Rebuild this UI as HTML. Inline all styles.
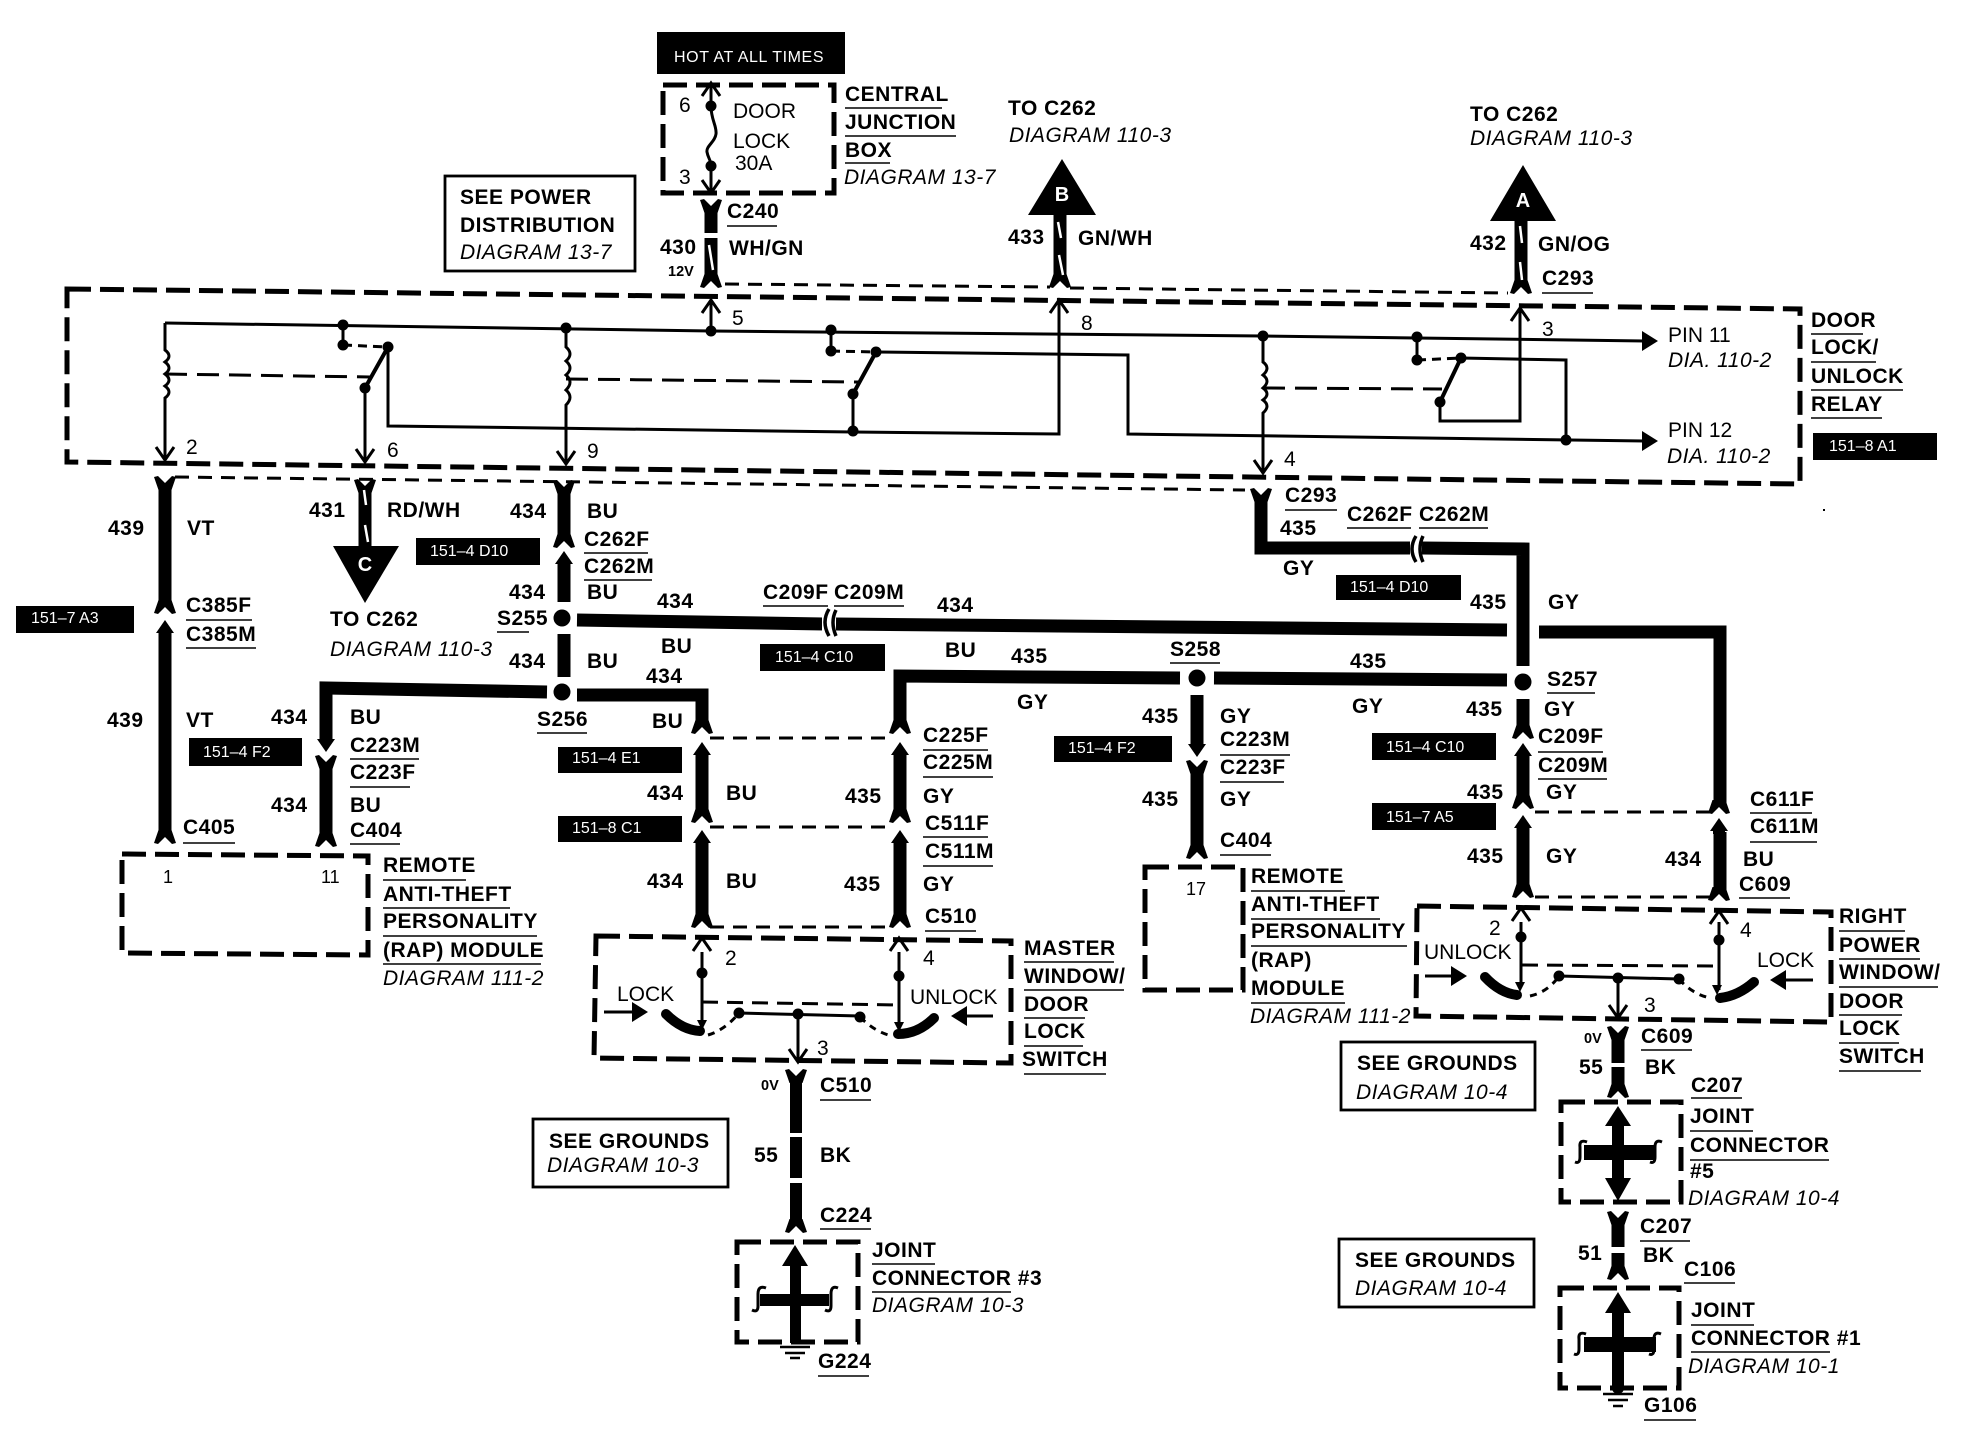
<!DOCTYPE html>
<html><head><meta charset="utf-8"><style>
html,body{margin:0;padding:0;background:#fff}
svg{display:block}
text{font-family:"Liberation Sans",sans-serif;fill:#000;font-size:21px}
.b{font-weight:bold;letter-spacing:.5px}.i{font-style:italic;letter-spacing:.5px}
.w{fill:#fff;font-size:16px}
.s{font-size:14.5px;font-weight:bold}
.L{fill:#fff;font-weight:bold;font-size:20px;text-anchor:middle}
.wire{fill:none;stroke:#000;stroke-width:13;stroke-linejoin:miter}
.thin{fill:none;stroke:#000;stroke-width:3}
.ul{fill:none;stroke:#000;stroke-width:1.6}
.dash{fill:none;stroke:#000;stroke-width:5;stroke-dasharray:24 9}
.td{fill:none;stroke:#000;stroke-width:3;stroke-dasharray:14 9}
.sl{stroke:#fff;stroke-width:2.5}
.arc{fill:none;stroke:#000;stroke-width:10;stroke-linecap:round}
.curl{fill:none;stroke:#000;stroke-width:3}
</style></head><body>
<svg width="1976" height="1456" viewBox="0 0 1976 1456" xmlns="http://www.w3.org/2000/svg">
<defs>
<g id="fu"><path d="M-11 0L-7-1L0 6L7-1L11 0L6.5 13H-6.5Z"/></g>
<g id="fd"><path d="M-11 0L-7 1L0-6L7 1L11 0L6.5-13H-6.5Z"/></g>
<g id="au"><path class="thin" d="M-9 13L0 0L9 13"/></g>
<g id="ad"><path class="thin" d="M-9-13L0 0L9-13"/></g>
<g id="hu"><path d="M0 0L-9 13H-6V16H6V13H9Z"/></g>
<g id="hd"><path d="M0 0L-9-13H-6V-16H6V-13H9Z"/></g>
</defs>
<rect width="1976" height="1456" fill="#fff"/>
<rect x="1823" y="509" width="2" height="2"/>

<!-- black label boxes -->
<rect x="657" y="32" width="188" height="42"/>
<rect x="1813" y="433" width="124" height="27"/>
<rect x="16" y="606" width="118" height="27"/>
<rect x="416" y="538" width="124" height="27"/>
<rect x="760" y="644" width="125" height="27"/>
<rect x="189" y="738" width="113" height="28"/>
<rect x="558" y="747" width="124" height="26"/>
<rect x="558" y="816" width="124" height="26"/>
<rect x="1336" y="575" width="125" height="25"/>
<rect x="1054" y="736" width="118" height="26"/>
<rect x="1372" y="733" width="124" height="27"/>
<rect x="1372" y="803" width="124" height="27"/>
<text class="w" x="674" y="62" style="letter-spacing:.6px">HOT AT ALL TIMES</text>
<text class="w" x="1829" y="451">151–8 A1</text>
<text class="w" x="31" y="623">151–7 A3</text>
<text class="w" x="430" y="556">151–4 D10</text>
<text class="w" x="775" y="662">151–4 C10</text>
<text class="w" x="203" y="757">151–4 F2</text>
<text class="w" x="572" y="763">151–4 E1</text>
<text class="w" x="572" y="833">151–8 C1</text>
<text class="w" x="1350" y="592">151–4 D10</text>
<text class="w" x="1068" y="753">151–4 F2</text>
<text class="w" x="1386" y="752">151–4 C10</text>
<text class="w" x="1386" y="822">151–7 A5</text>

<!-- dashed component boxes -->
<path class="dash" d="M663 85L834 85V193H663Z"/>
<path class="dash" d="M67 289L1800 309V484L67 462Z"/>
<path class="dash" d="M122 854L368 856V955L122 953Z"/>
<path class="dash" d="M596 936L1011 941V1063L594 1058Z"/>
<path class="dash" d="M1145 867H1243V990H1145Z"/>
<path class="dash" d="M1417 906L1831 912V1022L1416 1016Z"/>
<path class="dash" d="M737 1242H858V1342H737Z"/>
<path class="dash" d="M1561 1102H1681V1202H1561Z"/>
<path class="dash" d="M1560 1288H1679V1388H1560Z"/>

<!-- plain boxes -->
<g fill="none" stroke="#000" stroke-width="2.8">
<rect x="445" y="176" width="190" height="95"/>
<rect x="533" y="1119" width="195" height="68"/>
<rect x="1341" y="1042" width="194" height="68"/>
<rect x="1339" y="1239" width="195" height="68"/>
</g>

<!-- thin dashed linking lines -->
<path class="td" d="M725 284L1050 287M1070 288L1508 293"/>
<path class="td" d="M175 477L1245 490"/>
<path class="td" d="M710 738H893M710 827H893M710 927H893"/>
<path class="td" d="M1535 812H1712M1535 897H1712"/>

<!-- fuse -->
<path class="thin" d="M711 84V106C711 120 717 126 716 134C715 142 706 146 707 152C708 158 711 160 711 166V192"/>
<use href="#au" x="711" y="83"/><use href="#ad" x="711" y="193"/>
<circle cx="711" cy="106" r="5.5"/><circle cx="711" cy="166" r="5.5"/>

<!-- relay internals -->
<path class="thin" d="M165 323L711 331L1263 336L1645 341"/>
<path d="M1658 341L1642 331V351Z"/>
<path class="thin" d="M165 323V350q8 6 0 12q8 6 0 12q8 6 0 12q8 6 0 12V459"/><use href="#ad" x="165" y="460"/>
<path class="thin" d="M566 328V347q8 7 0 14q8 7 0 14q8 7 0 15q8 7 0 15V463"/><use href="#ad" x="566" y="464"/>
<path class="thin" d="M1263 336V362q8 6 0 13q8 6 0 13q8 6 0 12q8 6 0 13V472"/><use href="#ad" x="1263" y="473"/>
<path class="thin" d="M343 325V345M831 330V351M1417 337V360"/>
<path class="td" d="M343 345L388 347M831 351L876 352M1417 360L1461 358" style="stroke-dasharray:9 6"/>
<path class="td" d="M165 374L370 377M566 379L858 382M1263 388L1442 389" style="stroke-dasharray:22 10"/>
<path fill="none" stroke="#000" stroke-width="4" d="M388 347L365 388M876 352L853 394M1461 358L1440 402"/>
<path class="thin" d="M365 388V461"/><use href="#ad" x="365" y="462"/>
<path class="thin" d="M388 347V426L853 432L1059 434V301"/><use href="#au" x="1059" y="300"/>
<path class="thin" d="M853 394V432"/>
<path class="thin" d="M876 352L1128 355V434L1645 441"/><path d="M1658 441L1642 431V451Z"/>
<path class="thin" d="M1440 402V421H1520V309"/><use href="#au" x="1520" y="308"/>
<path class="thin" d="M1461 358L1566 360V440"/>
<path class="thin" d="M711 331V301"/><use href="#au" x="711" y="300"/>
<g>
<circle cx="343" cy="325" r="5.5"/><circle cx="343" cy="345" r="5.5"/><circle cx="388" cy="347" r="5.5"/><circle cx="365" cy="388" r="5.5"/>
<circle cx="566" cy="328" r="5.5"/><circle cx="711" cy="331" r="5.5"/>
<circle cx="831" cy="330" r="5.5"/><circle cx="831" cy="351" r="5.5"/><circle cx="876" cy="352" r="5.5"/><circle cx="853" cy="394" r="5.5"/><circle cx="853" cy="431" r="5.5"/>
<circle cx="1263" cy="336" r="5.5"/><circle cx="1417" cy="337" r="5.5"/><circle cx="1417" cy="360" r="5.5"/><circle cx="1461" cy="358" r="5.5"/><circle cx="1440" cy="402" r="5.5"/><circle cx="1566" cy="440" r="5.5"/>
</g>

<!-- heavy wires -->
<path class="wire" d="M711 212V233M711 238V278"/>
<path class="wire" d="M1060 215V278"/>
<path class="wire" d="M1521 221V284"/>
<path class="wire" d="M365 488V548"/>
<path class="wire" d="M165 488V604M165 630V834"/>
<path class="wire" d="M564 490V540M564 564V602M564 634V677"/>
<path class="wire" d="M577 620L824 624M836 624L1507 630"/>
<path class="wire" d="M1539 632H1720V804M1720 832V890"/>
<path class="wire" d="M547 692L326 688V740M326 768V836"/>
<path class="wire" d="M577 695H702V726M702 752V814M702 842V918"/>
<path class="wire" d="M1180 678L900 676V726M900 752V815M900 842V918"/>
<path class="wire" d="M1214 678L1507 680"/>
<path class="wire" d="M1261 502V548H1410M1422 548L1523 549V666"/>
<path class="wire" d="M1197 695V745M1197 772V848"/>
<path class="wire" d="M1523 699V730M1523 756V800M1523 828V888"/>
<path class="wire" d="M796 1082V1133M796 1137V1178M796 1183V1222" style="stroke-width:12"/>
<path class="wire" d="M1618 1038V1063M1618 1067V1088"/>
<path class="wire" d="M1618 1223V1247M1618 1253V1270"/>
<!-- forks -->
<use href="#fu" x="711" y="200"/><use href="#fd" x="711" y="287"/>
<use href="#fd" x="1060" y="287"/><use href="#fd" x="1521" y="293"/>
<use href="#fu" x="165" y="477"/><use href="#fu" x="365" y="480"/><use href="#fu" x="564" y="481"/>
<use href="#fu" x="1261" y="489"/>
<use href="#fd" x="165" y="843"/><use href="#fd" x="326" y="846"/><use href="#fd" x="702" y="927"/><use href="#fd" x="900" y="927"/>
<use href="#fd" x="1197" y="858"/><use href="#fd" x="1523" y="897"/><use href="#fd" x="1719" y="900"/>
<use href="#fu" x="796" y="1070"/><use href="#fd" x="796" y="1232"/>
<use href="#fu" x="1618" y="1027"/><use href="#fd" x="1618" y="1097"/>
<use href="#fu" x="1618" y="1212"/><use href="#fd" x="1618" y="1279"/>
<!-- inline connectors: cap + arrow -->
<use href="#fd" x="165" y="613"/><use href="#hu" x="165" y="620"/>
<use href="#fd" x="564" y="547"/><use href="#hu" x="564" y="551"/>
<use href="#fd" x="702" y="733"/><use href="#hu" x="702" y="742"/>
<use href="#fd" x="702" y="822"/><use href="#hu" x="702" y="830"/>
<use href="#fd" x="900" y="733"/><use href="#hu" x="900" y="742"/>
<use href="#fd" x="900" y="822"/><use href="#hu" x="900" y="830"/>
<use href="#fd" x="1523" y="738"/><use href="#hu" x="1523" y="743"/>
<use href="#fd" x="1523" y="808"/><use href="#hu" x="1523" y="815"/>
<use href="#fd" x="1719" y="813"/><use href="#hu" x="1719" y="818"/>
<use href="#hd" x="326" y="752"/><use href="#fu" x="326" y="756"/>
<use href="#hd" x="1197" y="757"/><use href="#fu" x="1197" y="761"/>
<!-- horizontal connectors -->
<rect x="822" y="606" width="10" height="30" fill="#fff"/>
<path fill="none" stroke="#000" stroke-width="3.5" d="M829 609Q821 622 829 636M836 610Q830 622 836 636"/>
<rect x="1410" y="534" width="10" height="30" fill="#fff"/>
<path fill="none" stroke="#000" stroke-width="3.5" d="M1416 536Q1408 549 1416 562M1423 536Q1417 549 1423 562"/>
<!-- wire stripes -->
<path class="sl" d="M709 245L713 270M1058 222L1061 238M1059 255L1063 275M1520 226L1522 243M1520 262L1522 280M364 490L366 505M365 525L368 542"/>
<!-- splices -->
<circle cx="562" cy="618" r="8.5"/><circle cx="562" cy="692" r="8.5"/><circle cx="1197" cy="678" r="8.5"/><circle cx="1523" cy="682" r="8.5"/>
<!-- triangles -->
<path d="M1062 159L1028 215H1096Z"/><text class="L" x="1062" y="201">B</text>
<path d="M1523 165L1490 221H1556Z"/><text class="L" x="1523" y="207">A</text>
<path d="M365 603L333 546H399Z"/><text class="L" x="365" y="571">C</text>

<!-- master switch -->
<path class="thin" d="M702 952V1025M899 952V1028"/><use href="#au" x="702" y="938"/><use href="#au" x="899" y="938"/>
<path class="td" d="M702 1002L899 1005" style="stroke-dasharray:16 9"/>
<circle cx="702" cy="973" r="5.5"/><circle cx="899" cy="976" r="5.5"/>
<path class="arc" d="M666 1014Q682 1030 700 1031"/>
<path class="arc" d="M934 1018Q918 1034 898 1034"/>
<path d="M702 1030l-5-10h10zM899 1032l-5-10h10z"/>
<path class="td" d="M708 1035Q725 1030 739 1013M860 1017Q875 1032 892 1036" style="stroke-dasharray:7 6"/>
<path class="thin" d="M739 1013L860 1016M798 1014V1061"/><use href="#ad" x="798" y="1062"/>
<circle cx="739" cy="1013" r="5.5"/><circle cx="798" cy="1014" r="5.5"/><circle cx="860" cy="1017" r="5.5"/>
<path class="thin" d="M604 1012H636M993 1016H962"/><path d="M648 1012L632 1002V1022ZM951 1016L967 1006V1026Z"/>

<!-- right switch -->
<path class="thin" d="M1521 922V985M1719 922V990"/><use href="#au" x="1521" y="908"/><use href="#au" x="1719" y="911"/>
<path class="td" d="M1522 965L1718 966" style="stroke-dasharray:16 9"/>
<circle cx="1521" cy="937" r="5.5"/><circle cx="1719" cy="940" r="5.5"/>
<path class="arc" d="M1485 977Q1500 993 1517 995"/>
<path class="arc" d="M1754 982Q1738 996 1720 998"/>
<path d="M1520 992l-5-10h10zM1717 995l-5-10h10z"/>
<path class="td" d="M1530 996Q1548 992 1559 976M1679 979Q1692 994 1710 998" style="stroke-dasharray:7 6"/>
<path class="thin" d="M1559 976L1679 979M1618 978V1017"/><use href="#ad" x="1618" y="1018"/>
<circle cx="1559" cy="976" r="5.5"/><circle cx="1618" cy="978" r="5.5"/><circle cx="1679" cy="979" r="5.5"/>
<path class="thin" d="M1425 976H1455M1813 980H1782"/><path d="M1467 976L1451 966V986ZM1770 980L1786 970V990Z"/>

<!-- joint connector #3 -->
<path d="M795 1245L782 1266H790V1343H801V1266H808Z"/><rect x="760" y="1294" width="69" height="12"/>
<path class="curl" d="M766 1288Q758 1285 758 1294V1306Q758 1313 752 1310M838 1288Q831 1285 831 1294V1306Q831 1313 825 1310"/>
<path d="M780 1347H810M785 1353H805M790 1358H800" fill="none" stroke="#000" stroke-width="2.5"/>
<!-- joint connector #5 -->
<path d="M1618 1106L1605 1126H1612V1178H1605L1618 1201L1631 1178H1624V1126H1631Z"/><rect x="1584" y="1145" width="72" height="15"/>
<path class="curl" d="M1587 1142Q1579 1139 1580 1147V1157Q1580 1164 1575 1162M1662 1142Q1655 1139 1655 1147V1157Q1655 1164 1650 1162"/>
<!-- joint connector #1 -->
<path d="M1618 1292L1605 1313H1612V1388H1624V1313H1631Z"/><rect x="1584" y="1337" width="72" height="15"/><circle cx="1618" cy="1388" r="6"/>
<path class="curl" d="M1586 1334Q1578 1331 1579 1339V1349Q1579 1356 1574 1354M1661 1334Q1654 1331 1654 1339V1349Q1654 1356 1649 1354"/>
<path d="M1603 1394H1633M1608 1400H1628M1613 1406H1623" fill="none" stroke="#000" stroke-width="2.5"/>

<!-- underlines -->
<path class="ul" d="M845 108h97M845 136h111M845 163h45M727 226h50M1811 334h52M1811 362h65M1811 390h92M1811 418h71
M1542 293h51M186 620h66M186 648h70M183 843h52M584 553h64M584 580h68M497 632h32M763 606h65M834 606h70M537 733h50
M350 759h69M350 787h60M350 844h50M923 750h65M923 777h70M923 837h65M923 866h70M925 931h51
M383 880h83M383 908h127M383 936h154M383 964h158
M1285 510h52M1347 528h64M1419 528h69M1170 663h50M1547 693h48M1220 755h70M1220 782h64M1220 855h51
M1538 752h65M1538 779h69M1750 813h62M1750 842h67M1739 898h51
M1251 891h94M1251 919h129M1251 946h156M1251 1003h94
M1839 931h66M1839 959h81M1839 987h99M1839 1015h63M1839 1043h60M1839 1071h82
M1024 962h90M1024 990h100M1024 1018h61M1024 1046h59M1024 1074h82
M820 1100h51M820 1229h51M818 1376h51M872 1264h63M872 1292h139
M1641 1050h51M1691 1098h51M1690 1131h63M1690 1160h139M1640 1241h50M1684 1283h51M1644 1420h52M1691 1325h63M1691 1352h139"/>

<!-- regular text -->
<text x="679" y="112">6</text><text x="733" y="118">DOOR</text><text x="733" y="148">LOCK</text><text x="735" y="170">30A</text><text x="679" y="184">3</text>
<text x="732" y="325">5</text><text x="186" y="454">2</text><text x="387" y="457">6</text><text x="587" y="458">9</text>
<text x="1081" y="330">8</text><text x="1542" y="336">3</text><text x="1284" y="466">4</text>
<text x="1668" y="342">PIN 11</text><text x="1668" y="437">PIN 12</text>
<text x="163" y="883" style="font-size:18px">1</text><text x="321" y="883" style="font-size:18px">11</text><text x="1186" y="895" style="font-size:18px">17</text>
<text x="725" y="965">2</text><text x="923" y="965">4</text><text x="617" y="1001">LOCK</text><text x="910" y="1004">UNLOCK</text><text x="817" y="1055">3</text>
<text x="1489" y="935">2</text><text x="1740" y="937">4</text><text x="1424" y="959">UNLOCK</text><text x="1757" y="967">LOCK</text><text x="1644" y="1012">3</text>
<text class="s" x="668" y="276">12V</text><text class="s" x="761" y="1090">0V</text><text class="s" x="1584" y="1043">0V</text>

<!-- italic text -->
<g class="i">
<text x="844" y="184">DIAGRAM 13-7</text><text x="460" y="259">DIAGRAM 13-7</text>
<text x="1009" y="142">DIAGRAM 110-3</text><text x="1470" y="145">DIAGRAM 110-3</text>
<text x="1668" y="367">DIA. 110-2</text><text x="1667" y="463">DIA. 110-2</text>
<text x="330" y="656">DIAGRAM 110-3</text><text x="383" y="985">DIAGRAM 111-2</text><text x="1250" y="1023">DIAGRAM 111-2</text>
<text x="547" y="1172">DIAGRAM 10-3</text><text x="872" y="1312">DIAGRAM 10-3</text>
<text x="1356" y="1099">DIAGRAM 10-4</text><text x="1355" y="1295">DIAGRAM 10-4</text>
<text x="1688" y="1205">DIAGRAM 10-4</text><text x="1688" y="1373">DIAGRAM 10-1</text>
</g>

<!-- bold text -->
<g class="b">
<text x="845" y="101">CENTRAL</text><text x="845" y="129">JUNCTION</text><text x="845" y="157">BOX</text>
<text x="460" y="204">SEE POWER</text><text x="460" y="232">DISTRIBUTION</text>
<text x="727" y="218">C240</text><text x="660" y="254">430</text><text x="729" y="255">WH/GN</text>
<text x="1008" y="115">TO C262</text><text x="1470" y="121">TO C262</text>
<text x="1008" y="244">433</text><text x="1078" y="245">GN/WH</text><text x="1470" y="250">432</text><text x="1538" y="251">GN/OG</text><text x="1542" y="285">C293</text>
<text x="1811" y="327">DOOR</text><text x="1811" y="354">LOCK/</text><text x="1811" y="383">UNLOCK</text><text x="1811" y="411">RELAY</text>
<text x="108" y="535">439</text><text x="187" y="535">VT</text><text x="186" y="612">C385F</text><text x="186" y="641">C385M</text>
<text x="107" y="727">439</text><text x="186" y="727">VT</text><text x="183" y="834">C405</text>
<text x="309" y="517">431</text><text x="387" y="517">RD/WH</text><text x="330" y="626">TO C262</text>
<text x="510" y="518">434</text><text x="587" y="518">BU</text><text x="584" y="546">C262F</text><text x="584" y="573">C262M</text>
<text x="509" y="599">434</text><text x="587" y="599">BU</text><text x="497" y="625">S255</text>
<text x="657" y="608">434</text><text x="661" y="653">BU</text><text x="763" y="599">C209F</text><text x="834" y="599">C209M</text><text x="937" y="612">434</text><text x="945" y="657">BU</text>
<text x="509" y="668">434</text><text x="587" y="668">BU</text><text x="646" y="683">434</text><text x="537" y="726">S256</text><text x="652" y="728">BU</text>
<text x="271" y="724">434</text><text x="350" y="724">BU</text><text x="350" y="752">C223M</text><text x="350" y="779">C223F</text><text x="271" y="812">434</text><text x="350" y="812">BU</text><text x="350" y="837">C404</text>
<text x="383" y="872">REMOTE</text><text x="383" y="901">ANTI-THEFT</text><text x="383" y="928">PERSONALITY</text><text x="383" y="957">(RAP) MODULE</text>
<text x="923" y="742">C225F</text><text x="923" y="769">C225M</text><text x="647" y="800">434</text><text x="726" y="800">BU</text><text x="845" y="803">435</text><text x="923" y="803">GY</text>
<text x="925" y="830">C511F</text><text x="925" y="858">C511M</text><text x="647" y="888">434</text><text x="726" y="888">BU</text><text x="844" y="891">435</text><text x="923" y="891">GY</text><text x="925" y="923">C510</text>
<text x="1285" y="502">C293</text><text x="1347" y="521">C262F</text><text x="1419" y="521">C262M</text><text x="1280" y="535">435</text><text x="1283" y="575">GY</text>
<text x="1470" y="609">435</text><text x="1548" y="609">GY</text>
<text x="1011" y="663">435</text><text x="1170" y="656">S258</text><text x="1017" y="709">GY</text><text x="1350" y="668">435</text><text x="1352" y="713">GY</text><text x="1547" y="686">S257</text>
<text x="1142" y="723">435</text><text x="1220" y="723">GY</text><text x="1220" y="746">C223M</text><text x="1220" y="774">C223F</text><text x="1142" y="806">435</text><text x="1220" y="806">GY</text><text x="1220" y="847">C404</text>
<text x="1466" y="716">435</text><text x="1544" y="716">GY</text><text x="1538" y="743">C209F</text><text x="1538" y="772">C209M</text><text x="1467" y="799">435</text><text x="1546" y="799">GY</text>
<text x="1467" y="863">435</text><text x="1546" y="863">GY</text><text x="1665" y="866">434</text><text x="1743" y="866">BU</text><text x="1739" y="891">C609</text><text x="1750" y="806">C611F</text><text x="1750" y="833">C611M</text>
<text x="1251" y="883">REMOTE</text><text x="1251" y="911">ANTI-THEFT</text><text x="1251" y="938">PERSONALITY</text><text x="1251" y="967">(RAP)</text><text x="1251" y="995">MODULE</text>
<text x="1839" y="923">RIGHT</text><text x="1839" y="952">POWER</text><text x="1839" y="979">WINDOW/</text><text x="1839" y="1008">DOOR</text><text x="1839" y="1035">LOCK</text><text x="1839" y="1063">SWITCH</text>
<text x="1024" y="955">MASTER</text><text x="1024" y="983">WINDOW/</text><text x="1024" y="1011">DOOR</text><text x="1024" y="1038">LOCK</text><text x="1022" y="1066">SWITCH</text>
<text x="820" y="1092">C510</text><text x="754" y="1162">55</text><text x="820" y="1162">BK</text><text x="820" y="1222">C224</text><text x="818" y="1368">G224</text>
<text x="549" y="1148">SEE GROUNDS</text><text x="872" y="1257">JOINT</text><text x="872" y="1285">CONNECTOR #3</text>
<text x="1641" y="1043">C609</text><text x="1579" y="1074">55</text><text x="1645" y="1074">BK</text><text x="1691" y="1092">C207</text>
<text x="1357" y="1070">SEE GROUNDS</text><text x="1355" y="1267">SEE GROUNDS</text>
<text x="1690" y="1123">JOINT</text><text x="1690" y="1152">CONNECTOR</text><text x="1690" y="1178">#5</text>
<text x="1640" y="1233">C207</text><text x="1578" y="1260">51</text><text x="1643" y="1262">BK</text><text x="1684" y="1276">C106</text>
<text x="1691" y="1317">JOINT</text><text x="1691" y="1345">CONNECTOR #1</text><text x="1644" y="1412">G106</text>
</g>
</svg>
</body></html>
